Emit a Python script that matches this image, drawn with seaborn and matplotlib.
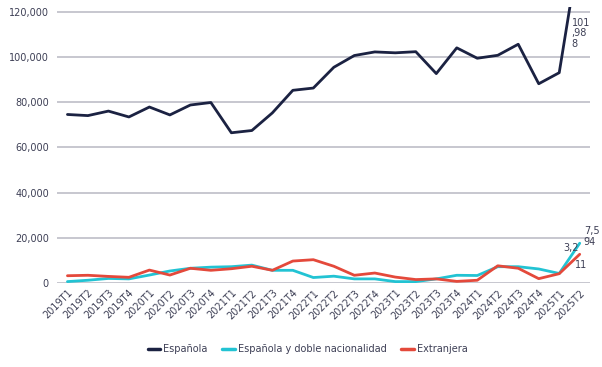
import numpy as np
import pandas as pd
import matplotlib
matplotlib.use("Agg")
import matplotlib.pyplot as plt
import seaborn as sns
from matplotlib.lines import Line2D
from matplotlib.ticker import FuncFormatter

# ------------------------------------------------------------
# Data
# ------------------------------------------------------------
quarters = [f"{y}T{q}" for y in range(2019, 2026) for q in range(1, 5)][:26]

espanola = [74600, 74100, 76100, 73500, 77900, 74400, 78800, 79900,
            66500, 67500, 75300, 85300, 86300, 95500, 100700, 102300,
            101900, 102400, 92700, 104100, 99500, 100800, 105700, 88200,
            93100, 149000]
doble = [600, 1200, 2000, 1800, 3500, 5300, 6500, 7000,
         7200, 7900, 5600, 5600, 2400, 3000, 1800, 1800,
         600, 600, 1800, 3400, 3300, 7200, 7200, 6200,
         4200, 17600]
extranjera = [3200, 3400, 2900, 2500, 5700, 3500, 6500, 5600,
              6300, 7400, 5600, 9700, 10300, 7400, 3400, 4400,
              2600, 1500, 1800, 700, 1200, 7600, 6500, 1900,
              4100, 12700]

series_names = ["Española", "Española y doble nacionalidad", "Extranjera"]
colors = ["#1b2242", "#22c3d3", "#e4493b"]

df = pd.DataFrame({
    "Trimestre": quarters * 3,
    "Valor": espanola + doble + extranjera,
    "Serie": np.repeat(series_names, len(quarters)),
})

# ------------------------------------------------------------
# Plot
# ------------------------------------------------------------
sns.set_theme(style="white")
plt.rcParams["font.family"] = ["DejaVu Sans"]
text_col = "#3d3f55"

fig = plt.figure(figsize=(6.02, 3.67), dpi=100)
ax = fig.add_axes([0.095, 0.229, 0.885, 0.752])

sns.lineplot(data=df, x="Trimestre", y="Valor", hue="Serie",
             hue_order=series_names, palette=colors, sort=False,
             linewidth=2.0, legend=False, ax=ax)

ax.set_xlim(-0.5, len(quarters) - 0.5)
ax.set_ylim(0, 122200)
ax.set_yticks(np.arange(0, 120001, 20000))
ax.yaxis.set_major_formatter(FuncFormatter(lambda v, p: f"{int(v):,}"))
ax.grid(axis="y", color="#c3c3cb", linewidth=1.3)
ax.set_axisbelow(True)
for s in ["top", "right", "left", "bottom"]:
    ax.spines[s].set_visible(False)
ax.tick_params(axis="both", length=0, labelsize=7, labelcolor=text_col)
ax.tick_params(axis="y", pad=6)
ax.set_xticks(range(len(quarters)))
ax.set_xticklabels(quarters, rotation=45, ha="right",
                   rotation_mode="anchor", fontsize=7)
ax.set_xlabel("")
ax.set_ylabel("")

# data labels at the end (wrapped like the original)
last = len(quarters) - 1
ax.text(last - 0.4, 117500, "101\n,98\n8", fontsize=7, color=text_col,
        ha="left", va="top", linespacing=1.1)
ax.text(last + 0.2, 25000, "7,5\n94", fontsize=7, color=text_col,
        ha="left", va="top", linespacing=1.1)
ax.text(last - 0.8, 17500, "3,2", fontsize=7, color=text_col,
        ha="left", va="top")
ax.text(last - 0.25, 10200, "11", fontsize=7, color=text_col,
        ha="left", va="top")

handles = [Line2D([0], [0], color=c, linewidth=2.5) for c in colors]
fig.legend(handles, series_names, loc="center", bbox_to_anchor=(0.511, 0.049),
           ncol=3, frameon=False, fontsize=7, handlelength=1.3,
           handletextpad=0.3, columnspacing=1.5, labelcolor=text_col)

fig.savefig("out.png", dpi=100)
